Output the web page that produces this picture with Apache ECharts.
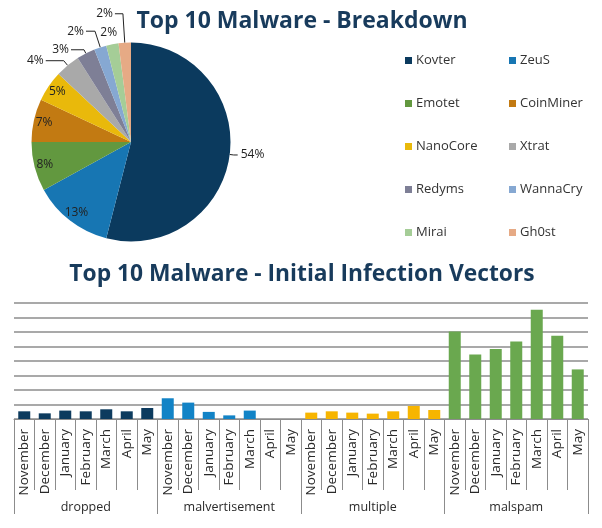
<!DOCTYPE html>
<html><head><meta charset="utf-8">
<script src="https://cdn.jsdelivr.net/npm/echarts@6/dist/echarts.min.js"></script>
<style>html,body{margin:0;padding:0;background:#fff}#c{width:602px;height:528px}</style>
</head><body><div id="c"></div>
<script>
// ---- Pie data ----
const malwareNames = ['Kovter','ZeuS','Emotet','CoinMiner','NanoCore','Xtrat','Redyms','WannaCry','Mirai','Gh0st'];
const malwareShare = [54,13,8,7,5,4,3,2,2,2];
const insideLabels = ['ZeuS','Emotet','CoinMiner','NanoCore'];
// ---- Bar data ----
const months = ['November','December','January','February','March','April','May'];
const vectors = ['dropped','malvertisement','multiple','malspam'];
const dropped = [5.3,3.9,5.8,5.3,6.7,5.3,7.6];
const malvertisement = [14.3,11.3,4.9,2.5,5.8,0,0];
const multiple = [4.4,5.3,4.4,3.7,5.3,9.0,6.2];
const malspam = [60.4,44.4,48.3,53.5,75.4,57.4,34.2];

const pieColors = ['#0b3a5e','#1776b3','#62983f','#c27a12','#e9b90b','#a9a9a9','#7e7f96','#86a8d2','#a5cd97','#e6aa85'];
const barColors = ['#0d3b5e','#1283c6','#f7b500','#6aa84f'];
// leader-line styling for the outside pie labels [length, length2, distance, showLine]
const leader = {Kovter: [4, 4, 3, true], Xtrat: [6, 18, 2, true], Redyms: [4, 13, 2, true],
  WannaCry: [17, 9, 2, true], Mirai: [12, 0, -7, false], Gh0st: [29, 8, 2, true]};
const FONT = 'Open Sans';
const TITLE = '#183b5c';

const vectorValues = [dropped, malvertisement, multiple, malspam];
const monthCats = [];
vectors.forEach(v => months.forEach(m => monthCats.push(m)));

const barSeries = vectors.map((v, gi) => ({
  name: v, type: 'bar', stack: 'all', barWidth: 12,
  itemStyle: {color: barColors[gi]},
  data: monthCats.map((m, i) => Math.floor(i / months.length) === gi ? vectorValues[gi][i % months.length] : null)
}));

const pieData = malwareNames.map((n, i) => ({name: n, value: malwareShare[i]}));

const legendCommon = {orient: 'vertical', top: 49, icon: 'rect', itemWidth: 7, itemHeight: 7, itemGap: 30,
  textStyle: {fontSize: 13, color: '#333', fontFamily: FONT, padding: [0, 0, 0, -1]}};

const chart = echarts.init(document.getElementById('c'));
chart.setOption({
  animation: false,
  textStyle: {fontFamily: FONT},
  color: pieColors,
  title: [
    {text: 'Top 10 Malware - Breakdown', left: 297, top: 5, textAlign: 'center',
     textStyle: {fontFamily: FONT, fontWeight: 'bold', fontSize: 23, color: TITLE}},
    {text: 'Top 10 Malware - Initial Infection Vectors', left: 297, top: 258, textAlign: 'center',
     textStyle: {fontFamily: FONT, fontWeight: 'bold', fontSize: 22.8, color: TITLE}}
  ],
  legend: [
    Object.assign({data: ['Kovter','Emotet','NanoCore','Redyms','Mirai'], left: 400}, legendCommon),
    Object.assign({data: ['ZeuS','CoinMiner','Xtrat','WannaCry','Gh0st'], left: 504}, legendCommon)
  ],
  grid: {left: 14, right: 14, top: 303, bottom: 109},
  xAxis: [
    {type: 'category', data: monthCats, position: 'bottom',
     axisLine: {show: true, lineStyle: {color: '#8c8c8c', width: 1}},
     axisTick: {show: true, alignWithLabel: false, interval: 0, length: 71, lineStyle: {color: '#8c8c8c', width: 1}},
     axisLabel: {interval: 0, rotate: 90, margin: 10, fontSize: 13.5, color: '#2a2a2a', fontFamily: FONT}},
    {type: 'category', data: vectors, position: 'bottom',
     axisLine: {show: false},
     axisTick: {show: true, alignWithLabel: false, interval: 0, length: 95, lineStyle: {color: '#8c8c8c', width: 1}},
     axisLabel: {interval: 0, margin: 82, fontSize: 12.5, color: '#2a2a2a', fontFamily: FONT}}
  ],
  yAxis: {type: 'value', min: 0, max: 80, interval: 10,
    axisLabel: {show: false}, axisLine: {show: false}, axisTick: {show: false},
    splitLine: {lineStyle: {color: '#8c8c8c', width: 1.5}}},
  series: [
    {type: 'pie', center: [131, 142], radius: [0, 99.5], startAngle: 90, clockwise: true,
     avoidLabelOverlap: false,
     data: pieData.map(d => {
       const out = !insideLabels.includes(d.name);
       const L = leader[d.name] || [6, 6, 3, true];
       return {...d, label: {show: out, distanceToLabelLine: L[2]},
         labelLine: {show: out && L[3], length: L[0], length2: L[1]}};
     }),
     label: {formatter: '{d}%', fontSize: 12, color: '#222', fontFamily: FONT},
     labelLine: {lineStyle: {color: '#222', width: 1}},
     itemStyle: {borderWidth: 0}},
    {type: 'pie', center: [131, 142], radius: [72, 100], startAngle: 90, clockwise: true, silent: true,
     data: pieData.map(d => ({...d, label: {show: insideLabels.includes(d.name)}})),
     label: {position: 'inside', formatter: '{d}%', fontSize: 12, color: '#222', fontFamily: FONT},
     itemStyle: {color: 'rgba(0,0,0,0)'}, emphasis: {disabled: true}}
  ].concat(barSeries)
});
</script></body></html>
